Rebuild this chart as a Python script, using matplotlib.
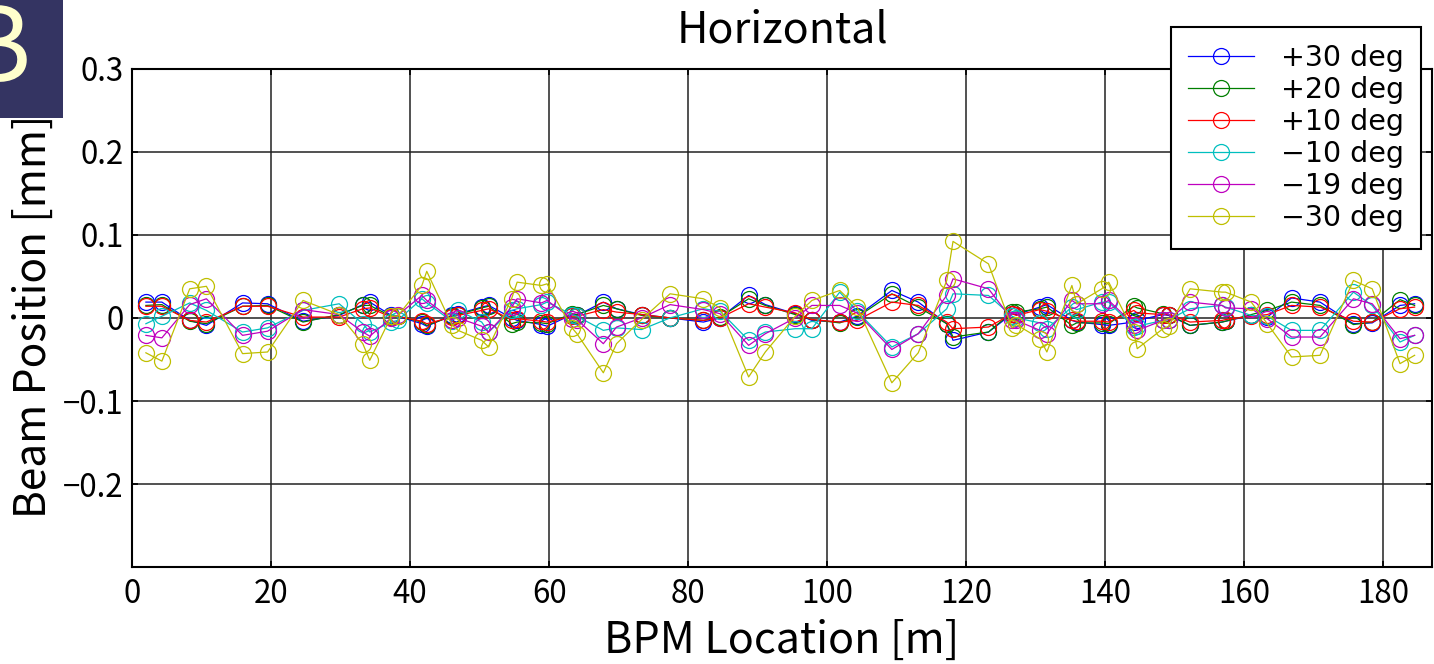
import matplotlib
matplotlib.use("Agg")
import matplotlib.pyplot as plt
from matplotlib.patches import Rectangle

plt.rcParams['font.family'] = ['Noto Sans CJK JP', 'DejaVu Sans']
plt.rcParams['axes.unicode_minus'] = True

# BPM locations [m]
bpm_s = [2.0, 4.3, 8.3, 10.7, 15.9, 19.5, 24.6, 29.8, 33.2, 34.2,
         37.3, 38.2, 41.7, 42.4, 46.0, 46.9, 50.3, 51.3, 54.6, 55.4,
         58.9, 59.7, 63.3, 64.0, 67.8, 69.7, 73.3, 77.4, 82.2, 84.6,
         88.7, 91.1, 95.4, 97.8, 101.8, 104.3, 109.3, 113.1, 117.2, 118.1,
         123.2, 126.6, 127.2, 130.6, 131.6, 135.2, 135.9, 139.5, 140.5, 144.1,
         144.6, 148.3, 149.1, 152.2, 156.8, 157.3, 161.0, 163.3, 166.8, 170.9,
         175.7, 178.4, 182.4, 184.5]

p30 = [0.019, 0.019, -0.003, -0.009, 0.018, 0.017, -0.004, 0.003, 0.016, 0.019,
       0.003, 0.002, -0.007, -0.010, 0.003, 0.005, 0.013, 0.015, 0.000, -0.003,
       -0.008, -0.010, 0.004, 0.003, 0.019, 0.011, 0.004, 0.000, -0.005, 0.000,
       0.027, 0.016, 0.005, -0.003, -0.005, 0.002, 0.033, 0.019, -0.007, -0.027,
       -0.017, 0.005, 0.004, 0.013, 0.016, -0.003, -0.005, -0.008, -0.009, -0.005,
       -0.003, 0.004, 0.003, -0.009, -0.005, -0.004, 0.003, 0.001, 0.024, 0.019,
       -0.007, -0.006, 0.015, 0.017]

p20 = [0.015, 0.016, -0.004, -0.007, 0.014, 0.015, -0.005, 0.004, 0.015, 0.015,
       0.002, 0.002, -0.005, -0.009, 0.002, 0.004, 0.012, 0.014, -0.007, -0.005,
       -0.006, -0.007, 0.005, 0.004, 0.015, 0.011, 0.003, 0.000, -0.003, 0.001,
       0.023, 0.015, 0.004, -0.002, -0.006, 0.001, 0.029, 0.013, -0.007, -0.023,
       -0.017, 0.007, 0.007, 0.011, 0.013, -0.009, -0.006, -0.006, -0.007, 0.014,
       0.012, 0.005, 0.004, -0.009, -0.005, -0.004, 0.004, 0.009, 0.019, 0.015,
       -0.008, -0.005, 0.022, 0.015]

p10 = [0.014, 0.014, -0.003, -0.005, 0.014, 0.014, 0.001, 0.001, 0.011, 0.012,
       0.001, 0.002, -0.004, -0.007, 0.001, 0.003, 0.009, 0.011, -0.002, -0.001,
       -0.004, -0.005, 0.002, 0.002, 0.010, 0.007, 0.004, 0.000, -0.003, 0.000,
       0.017, 0.013, 0.006, -0.002, -0.005, -0.003, 0.019, 0.015, -0.005, -0.013,
       -0.011, 0.005, 0.003, 0.010, 0.008, -0.003, -0.004, -0.004, -0.005, 0.009,
       0.006, 0.004, 0.004, -0.005, -0.003, -0.002, 0.002, 0.004, 0.015, 0.013,
       -0.004, -0.005, 0.011, 0.013]

m10 = [-0.007, 0.002, 0.018, 0.009, -0.017, -0.012, 0.009, 0.017, -0.007, -0.017,
       -0.005, -0.003, 0.023, 0.018, -0.004, 0.009, -0.005, -0.017, 0.009, 0.011,
       0.016, 0.019, 0.004, 0.002, -0.015, -0.012, -0.014, 0.000, 0.011, 0.008,
       -0.027, -0.017, -0.013, -0.013, 0.031, 0.008, -0.035, -0.019, 0.011, 0.029,
       0.027, 0.002, 0.000, -0.006, -0.013, 0.013, 0.010, 0.019, 0.019, -0.011,
       -0.010, -0.003, -0.002, 0.011, 0.015, 0.013, 0.003, 0.002, -0.015, -0.015,
       0.031, 0.015, -0.029, -0.021]

m19 = [-0.021, -0.024, 0.016, 0.023, -0.021, -0.016, 0.010, 0.004, -0.017, -0.022,
       0.000, 0.003, 0.027, 0.021, -0.002, 0.000, -0.010, -0.017, 0.013, 0.023,
       0.018, 0.021, -0.001, -0.002, -0.031, -0.011, 0.000, 0.016, 0.010, 0.005,
       -0.033, -0.019, 0.000, 0.015, 0.015, 0.006, -0.038, -0.019, 0.027, 0.047,
       0.035, -0.002, -0.003, -0.015, -0.019, 0.021, 0.017, 0.017, 0.021, -0.008,
       -0.015, -0.003, -0.002, 0.019, 0.015, 0.012, 0.011, -0.001, -0.023, -0.023,
       0.023, 0.017, -0.025, -0.021]

m30 = [-0.042, -0.052, 0.035, 0.038, -0.043, -0.041, 0.021, 0.004, -0.031, -0.051,
       0.002, 0.002, 0.039, 0.056, -0.008, -0.015, -0.027, -0.035, 0.023, 0.043,
       0.039, 0.041, -0.012, -0.019, -0.066, -0.031, -0.002, 0.029, 0.023, 0.012,
       -0.071, -0.041, 0.002, 0.021, 0.033, 0.013, -0.078, -0.042, 0.045, 0.092,
       0.065, -0.012, -0.008, -0.025, -0.041, 0.039, 0.017, 0.035, 0.043, -0.017,
       -0.037, -0.013, -0.010, 0.035, 0.031, 0.031, 0.019, -0.007, -0.047, -0.045,
       0.045, 0.035, -0.055, -0.045]

series = [p30, p20, p10, m10, m19, m30]
labels = ['+30 deg', '+20 deg', '+10 deg', '\u221210 deg', '\u221219 deg', '\u221230 deg']
colors = ['#0000ff', '#007f00', '#ff0000', '#00bfbf', '#bf00bf', '#bfbf00']

xticks = [0, 20, 40, 60, 80, 100, 120, 140, 160, 180]
yticks = [-0.2, -0.1, 0, 0.1, 0.2, 0.3]
ytick_labels = ['\u22120.2', '\u22120.1', '0', '0.1', '0.2', '0.3']

W, H = 1434, 664
fig = plt.figure(figsize=(W / 100, H / 100), dpi=100)
ax = fig.add_axes([132 / W, 1 - 567.3 / H, 1300 / W, (567.3 - 68.5) / H])

for vals, lab, c in zip(series, labels, colors):
    ax.plot(bpm_s, vals, '-o', color=c, lw=0.9, marker='o', ms=11.5,
            mfc='none', mec=c, mew=0.9, label=lab)

ax.set_xlim(0, 187)
ax.set_ylim(-0.3, 0.3)
ax.set_xticks(xticks)
ax.set_xticklabels([str(t) for t in xticks])
ax.set_yticks(yticks)
ax.set_yticklabels(ytick_labels)
ax.tick_params(direction='in', length=4, width=1.2, top=True, right=True,
               labelsize=22.5)
ax.tick_params(axis='y', pad=6)
ax.tick_params(axis='x', pad=8)
ax.grid(True, color='#222222', lw=1.1, ls='-')
ax.set_axisbelow(True)
for sp in ax.spines.values():
    sp.set_linewidth(1.5)
    sp.set_color('black')

ax.set_title('Horizontal', fontsize=31, pad=19)
ax.set_xlabel('BPM Location [m]', fontsize=31, labelpad=6)
fig.text(34 / W, 1 - 316 / H, 'Beam Position [mm]', rotation=90,
         fontsize=30.5, ha='center', va='center')

leg = ax.legend(loc='upper right', bbox_to_anchor=(1421 / W, 1 - 27 / H),
                bbox_transform=fig.transFigure, borderaxespad=0,
                prop={'family': 'DejaVu Sans', 'size': 20.5},
                frameon=True, fancybox=False, framealpha=1,
                edgecolor='black', handlelength=2.3, handletextpad=0.95,
                labelspacing=0.14, borderpad=0.6)
leg.get_frame().set_linewidth(1.5)
leg.set_zorder(20)

fig.patches.append(Rectangle((0, 1 - 118 / H), 63 / W, 118 / H,
                             transform=fig.transFigure, facecolor='#343462',
                             edgecolor='none', zorder=30))
fig.text(31 / W, 1 - 82 / H, 'B', color='#ffffcc', fontsize=75,
         ha='right', va='baseline', zorder=31,
         family=['Noto Sans CJK JP', 'DejaVu Sans'])

fig.savefig('out.png', dpi=100)
